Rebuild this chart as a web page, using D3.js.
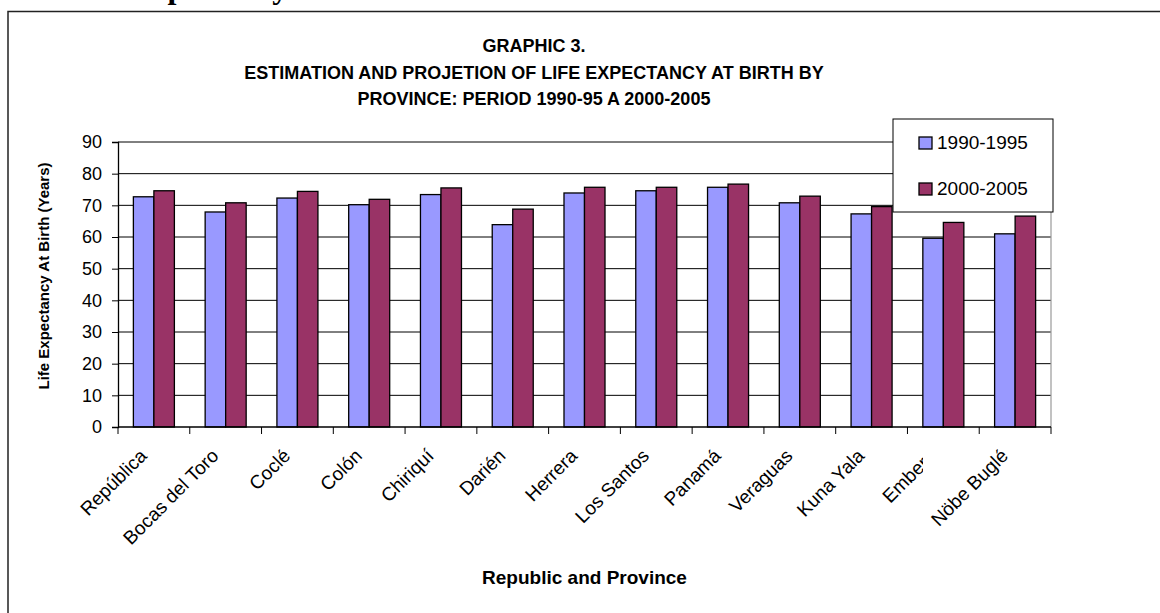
<!DOCTYPE html>
<html>
<head>
<meta charset="utf-8">
<script src="https://cdn.jsdelivr.net/npm/d3@7"></script>
<style>
  html, body { margin: 0; padding: 0; background: #fff; }
  svg { display: block; }
  text { font-family: "Liberation Sans", Arial, sans-serif; fill: #000; }
</style>
</head>
<body>
<svg id="chart" width="1160" height="613"></svg>
<script>
const categories = ["República", "Bocas del Toro", "Coclé", "Colón", "Chiriquí", "Darién", "Herrera", "Los Santos", "Panamá", "Veraguas", "Kuna Yala", "Emberá", "Nöbe Buglé"];
const seriesNames = ["1990-1995", "2000-2005"];
const values1990 = [72.7, 67.9, 72.3, 70.2, 73.4, 63.9, 73.9, 74.6, 75.7, 70.8, 67.3, 59.6, 61.0];
const values2000 = [74.6, 70.8, 74.4, 71.9, 75.5, 68.8, 75.7, 75.7, 76.7, 72.9, 69.6, 64.6, 66.6];
const yTicks = [0, 10, 20, 30, 40, 50, 60, 70, 80, 90];
const titleLines = ["GRAPHIC 3.", "ESTIMATION AND PROJETION OF LIFE EXPECTANCY AT BIRTH BY", "PROVINCE: PERIOD 1990-95 A 2000-2005"];
const colors = ["#9999FF", "#993366"];

const svg = d3.select("#chart");

// clip for the overlapped "Emberá" label (the reference hides its end behind the next label)
svg.append("defs").append("clipPath").attr("id", "clipEmbera")
  .append("rect").attr("x", 0).attr("y", 0).attr("width", 923).attr("height", 613);

// cut-off heading from the page above (only its lower edge shows)
svg.append("text").attr("x", 67).attr("y", -2)
  .style("font-family", "'Liberation Serif', 'Times New Roman', serif")
  .style("font-weight", "bold").style("font-size", "32px")
  .text("Life Expectancy");

// outer frame
svg.append("rect").attr("x", 8).attr("y", 11.5).attr("width", 1200).attr("height", 700)
  .attr("fill", "none").attr("stroke", "#222").attr("stroke-width", 1.5);

const m = { left: 118, right: 1051, top: 142, bottom: 427 };
const x = d3.scaleBand().domain(categories).range([m.left, m.right]).paddingInner(0).paddingOuter(0);
const y = d3.scaleLinear().domain([0, 90]).range([m.bottom, m.top]);
const bw = x.bandwidth() / 3.5;
const xs = d3.scaleBand().domain(seriesNames).range([0, bw * 2]);

// gridlines
svg.append("g").selectAll("line").data(yTicks.filter(d => d > 0)).join("line")
  .attr("x1", m.left).attr("x2", m.right)
  .attr("y1", d => y(d)).attr("y2", d => y(d))
  .attr("stroke", "#000").attr("stroke-width", 1);
// right plot border
svg.append("line").attr("x1", m.right).attr("x2", m.right).attr("y1", m.top).attr("y2", m.bottom)
  .attr("stroke", "#999").attr("stroke-width", 1.2);

// bars
const data = categories.map((c, i) => ({ c, v: [values1990[i], values2000[i]] }));
const g = svg.append("g").selectAll("g").data(data).join("g")
  .attr("transform", d => `translate(${x(d.c) + (x.bandwidth() - 2 * bw) / 2},0)`);
g.selectAll("rect").data(d => d.v.map((v, k) => ({ k, v }))).join("rect")
  .attr("x", d => xs(seriesNames[d.k]))
  .attr("width", bw)
  .attr("y", d => y(d.v))
  .attr("height", d => y(0) - y(d.v))
  .attr("fill", d => colors[d.k])
  .attr("stroke", "#000").attr("stroke-width", 1.3);

// y axis
const yAxis = svg.append("g").attr("transform", `translate(${m.left},0)`)
  .call(d3.axisLeft(y).tickValues(yTicks).tickSize(6).tickPadding(10).tickFormat(d3.format("d")));
yAxis.select(".domain").attr("stroke", "#000").attr("stroke-width", 1.3);
yAxis.selectAll(".tick line").attr("stroke", "#000");
yAxis.selectAll("text").style("font-size", "18px").style("font-family", "'Liberation Sans', Arial, sans-serif");

// x axis
const xTickPos = categories.map(c => x(c)).concat([m.right]);
const xAxis = svg.append("g").attr("transform", `translate(0,${m.bottom})`);
xAxis.append("line").attr("x1", m.left).attr("x2", m.right).attr("stroke", "#000").attr("stroke-width", 1.3);
xAxis.selectAll("line.tk").data(xTickPos).join("line").attr("class", "tk")
  .attr("x1", d => d).attr("x2", d => d).attr("y1", 0).attr("y2", 7).attr("stroke", "#000");
const labels = svg.append("g").selectAll("g").data(categories).join("g")
  .attr("clip-path", d => d === "Emberá" ? "url(#clipEmbera)" : null);
labels.append("text")
  .attr("text-anchor", "end")
  .attr("transform", d => `translate(${x(d) + x.bandwidth() / 2 - 6},${m.bottom + 30}) rotate(-45)`)
  .style("font-size", "19px")
  .text(d => d);

// title
svg.append("g").selectAll("text").data(titleLines).join("text")
  .attr("x", 534).attr("y", (d, i) => 52 + i * 26.5)
  .attr("text-anchor", "middle")
  .style("font-weight", "bold").style("font-size", "18px")
  .text(d => d);

// axis titles
svg.append("text").attr("transform", "translate(49,276) rotate(-90)")
  .attr("text-anchor", "middle").style("font-weight", "bold").style("font-size", "15px")
  .text("Life Expectancy At Birth (Years)");
svg.append("text").attr("x", (m.left + m.right) / 2).attr("y", 584)
  .attr("text-anchor", "middle").style("font-weight", "bold").style("font-size", "19px")
  .text("Republic and Province");

// legend (overlapping plot, white background)
const lg = svg.append("g").attr("transform", "translate(893,119)");
lg.append("rect").attr("width", 160).attr("height", 93).attr("fill", "#fff").attr("stroke", "#000").attr("stroke-width", 1);
lg.selectAll("rect.sw").data(seriesNames).join("rect").attr("class", "sw")
  .attr("x", 26).attr("y", (d, i) => 18 + i * 46).attr("width", 13).attr("height", 12)
  .attr("fill", (d, i) => colors[i]).attr("stroke", "#000").attr("stroke-width", 1.3);
lg.selectAll("text").data(seriesNames).join("text")
  .attr("x", 44).attr("y", (d, i) => 30 + i * 46)
  .style("font-size", "19px").text(d => d);
</script>
</body>
</html>
